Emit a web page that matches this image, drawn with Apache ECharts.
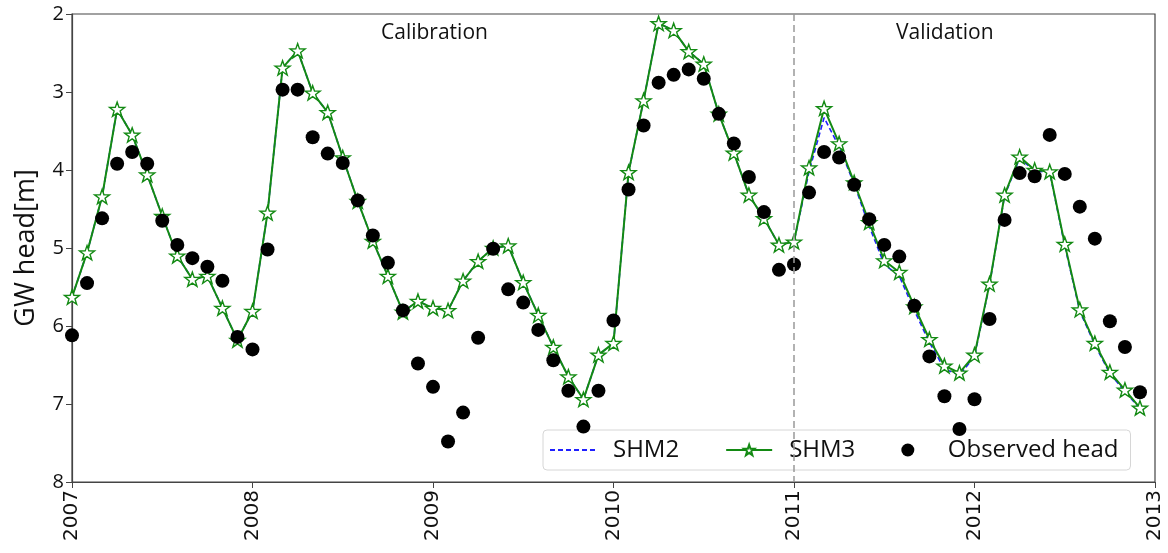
<!DOCTYPE html>
<html>
<head>
<meta charset="utf-8">
<script src="https://cdn.jsdelivr.net/npm/echarts@6/dist/echarts.min.js"></script>
<style>
  html, body { margin: 0; padding: 0; background: #fff; }
  #main { width: 1168px; height: 553px; }
</style>
</head>
<body>
<div id="main"></div>
<script>
// monthly values from Jan 2007 to Dec 2012
var startYear = 2007
var yearTicks = [2007, 2008, 2009, 2010, 2011, 2012, 2013]
var splitYear = 2011

var shm3 = [
  5.63, 5.06, 4.34, 3.22, 3.55, 4.06, 4.59, 5.10, 5.40, 5.36, 5.77, 6.18,
  5.81, 4.55, 2.69, 2.47, 3.01, 3.26, 3.84, 4.40, 4.91, 5.36, 5.82, 5.68,
  5.77, 5.80, 5.42, 5.17, 5.00, 4.97, 5.44, 5.86, 6.27, 6.65, 6.94, 6.37,
  6.22, 4.03, 3.11, 2.12, 2.21, 2.48, 2.64, 3.28, 3.78, 4.32, 4.62, 4.96,
  4.92, 3.97, 3.21, 3.66, 4.16, 4.67, 5.16, 5.31, 5.75, 6.17, 6.51, 6.60,
  6.37, 5.46, 4.32, 3.83, 4.00, 4.02, 4.95, 5.79, 6.22, 6.59, 6.82, 7.05
]

var shm2 = [
  5.63, 5.06, 4.34, 3.22, 3.55, 4.06, 4.59, 5.10, 5.40, 5.36, 5.77, 6.18,
  5.81, 4.55, 2.69, 2.47, 3.01, 3.26, 3.84, 4.40, 4.91, 5.36, 5.82, 5.68,
  5.77, 5.80, 5.42, 5.17, 5.00, 4.97, 5.44, 5.86, 6.27, 6.65, 6.94, 6.37,
  6.22, 4.03, 3.11, 2.12, 2.21, 2.48, 2.64, 3.28, 3.78, 4.32, 4.62, 4.96,
  4.92, 4.02, 3.33, 3.70, 4.18, 4.72, 5.21, 5.36, 5.80, 6.21, 6.55, 6.63,
  6.39, 5.47, 4.33, 3.85, 4.01, 4.03, 4.97, 5.81, 6.24, 6.61, 6.84, 7.06
]

var observed = [
  6.12, 5.45, 4.62, 3.92, 3.77, 3.92, 4.65, 4.96, 5.13, 5.24, 5.42, 6.14,
  6.30, 5.02, 2.97, 2.97, 3.58, 3.79, 3.91, 4.39, 4.84, 5.19, 5.80, 6.48,
  6.78, 7.48, 7.11, 6.15, 5.01, 5.53, 5.70, 6.05, 6.44, 6.83, 7.29, 6.83,
  5.93, 4.25, 3.43, 2.88, 2.78, 2.71, 2.83, 3.28, 3.66, 4.09, 4.54, 5.28,
  5.21, 4.29, 3.77, 3.84, 4.19, 4.63, 4.96, 5.11, 5.74, 6.39, 6.90, 7.32,
  6.94, 5.91, 4.64, 4.04, 4.08, 3.55, 4.05, 4.47, 4.88, 5.94, 6.27, 6.85
]

function toPairs(arr){
  return arr.map(function(v, i){ return [startYear + i / 12, v] })
}

var starPath = 'path://M0,-10L2.35,-3.24L9.51,-3.09L3.8,1.24L5.88,8.09L0,4L-5.88,8.09L-3.8,1.24L-9.51,-3.09L-2.35,-3.24Z'
var sansFont = '"Open Sans", "DejaVu Sans", sans-serif'

let myChart = echarts.init(document.getElementById('main'))

let option = {
  animation: false,
  grid: {
    left: 72,
    right: 13,
    top: 14,
    bottom: 71,
    show: true,
    borderColor: '#444',
    borderWidth: 1.2
  },
  legend: {
    left: 543,
    top: 430,
    orient: 'horizontal',
    itemWidth: 46,
    itemHeight: 13,
    itemGap: 46,
    padding: [8, 12, 8, 6],
    backgroundColor: '#fff',
    borderColor: '#d6d6d6',
    borderWidth: 1,
    borderRadius: 4,
    textStyle: {
      fontFamily: sansFont,
      fontSize: 24,
      color: '#111',
      padding: [0, 0, 0, 12]
    },
    data: [
      { name: 'SHM2', itemStyle: { opacity: 0 } },
      { name: 'SHM3' },
      { name: 'Observed head', itemStyle: { color: '#000', opacity: 1 } }
    ]
  },
  graphic: [
    {
      type: 'text',
      left: 381,
      top: 23,
      silent: true,
      style: { text: 'Calibration', font: '21px ' + sansFont, fill: '#111' }
    },
    {
      type: 'text',
      left: 896,
      top: 23,
      silent: true,
      style: { text: 'Validation', font: '21px ' + sansFont, fill: '#111' }
    }
  ],
  xAxis: {
    type: 'value',
    min: yearTicks[0],
    max: yearTicks[yearTicks.length - 1],
    interval: 1,
    splitLine: { show: false },
    axisLine: { show: true, onZero: false, lineStyle: { color: '#444', width: 1.2 } },
    axisTick: { show: true, length: 6, lineStyle: { color: '#444' } },
    axisLabel: {
      rotate: 90,
      fontSize: 20,
      fontFamily: 'DejaVu Sans',
      color: '#111',
      margin: 8,
      formatter: function(v){ return String(v) }
    }
  },
  yAxis: {
    type: 'value',
    inverse: true,
    min: 2,
    max: 8,
    interval: 1,
    name: 'GW head[m]',
    nameLocation: 'middle',
    nameRotate: 90,
    nameGap: 32,
    nameTextStyle: { fontFamily: sansFont, fontSize: 27, color: '#111' },
    splitLine: { show: false },
    axisLine: { show: true, lineStyle: { color: '#444', width: 1.2 } },
    axisTick: { show: true, length: 6, lineStyle: { color: '#444' } },
    axisLabel: { fontSize: 20, fontFamily: sansFont, color: '#111', margin: 8 }
  },
  series: [
    {
      name: 'SHM2',
      type: 'line',
      data: toPairs(shm2),
      symbol: 'none',
      z: 2,
      lineStyle: { color: '#1f1fff', width: 1.6, type: [5, 3] },
      itemStyle: { color: '#1f1fff' }
    },
    {
      name: 'SHM3',
      type: 'line',
      data: toPairs(shm3),
      symbol: starPath,
      symbolSize: 15,
      symbolKeepAspect: true,
      z: 3,
      lineStyle: { color: '#138a13', width: 2 },
      itemStyle: { color: '#fff', borderColor: '#138a13', borderWidth: 1.4 },
      markLine: {
        silent: true,
        symbol: 'none',
        label: { show: false },
        lineStyle: { color: '#999', type: [7, 4], width: 1.5 },
        data: [{ xAxis: splitYear }]
      }
    },
    {
      name: 'Observed head',
      type: 'scatter',
      data: toPairs(observed),
      symbol: 'circle',
      symbolSize: 14,
      z: 4,
      itemStyle: { color: '#000', opacity: 1 }
    }
  ]
}

myChart.setOption(option, true)

window.addEventListener('resize', function(){
  myChart.resize()
})
</script>
</body>
</html>
